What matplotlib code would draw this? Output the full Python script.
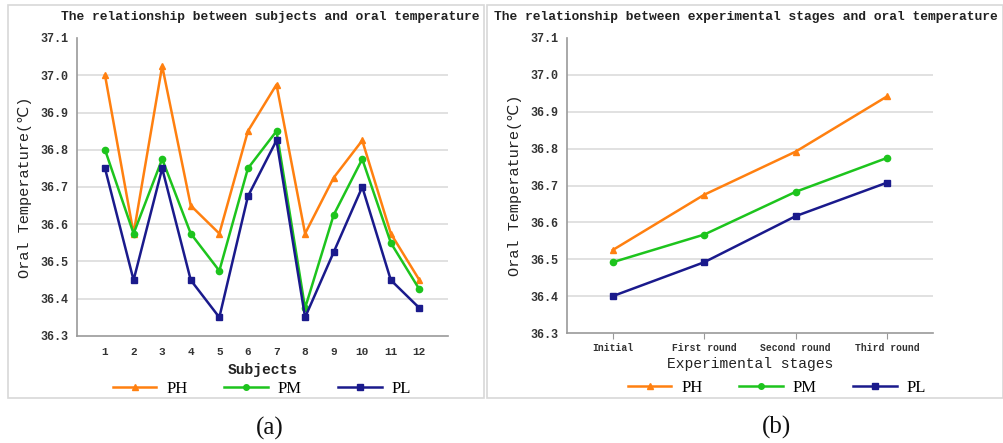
import matplotlib
matplotlib.use("Agg")
import matplotlib.pyplot as plt
from matplotlib.patches import Rectangle
from matplotlib.lines import Line2D

subjects = [str(i) for i in range(1, 13)]
ph_a = [37.0, 36.575, 37.025, 36.65, 36.575, 36.85, 36.975, 36.575, 36.725, 36.825, 36.575, 36.45]
pm_a = [36.8, 36.575, 36.775, 36.575, 36.475, 36.75, 36.85, 36.375, 36.625, 36.775, 36.55, 36.425]
pl_a = [36.75, 36.45, 36.75, 36.45, 36.35, 36.675, 36.825, 36.35, 36.525, 36.7, 36.45, 36.375]

stages = ["Initial", "First round", "Second round", "Third round"]
ph_b = [36.525, 36.675, 36.792, 36.942]
pm_b = [36.492, 36.567, 36.683, 36.775]
pl_b = [36.400, 36.492, 36.617, 36.708]

yticks = [36.3, 36.4, 36.5, 36.6, 36.7, 36.8, 36.9, 37.0, 37.1]
series_names = ["PH", "PM", "PL"]
colors = ["#FF8010", "#1DC41D", "#1A1A8C"]
markers = ["^", "o", "s"]

W, H = 1004, 443
fig = plt.figure(figsize=(W / 100, H / 100), dpi=100)
fig.patch.set_facecolor("white")

MONO = ["Liberation Mono", "DejaVu Sans"]
SERIF = ["Liberation Serif", "DejaVu Serif"]

def fx(x):
    return x / W

def fy(y):
    return 1 - y / H

# panel boxes
for (x0, y0, x1, y1) in [(8, 5, 484, 398), (487, 5, 1003, 398)]:
    fig.patches.append(Rectangle((fx(x0), fy(y1)), fx(x1 - x0), (y1 - y0) / H,
                                 transform=fig.transFigure, fill=False,
                                 edgecolor="#d8d8d8", linewidth=1.2))

def style_axes(ax, xlabels, xpos, xtick_size, ticks_out):
    ax.set_ylim(36.3, 37.1)
    ax.set_yticks(yticks)
    ax.set_yticklabels([f"{v:.1f}" for v in yticks],
                       fontfamily=MONO, fontweight="bold", fontsize=8.5, color="#333333")
    ax.set_xticks(xpos)
    ax.set_xticklabels(xlabels, fontfamily=MONO, fontweight="bold", fontsize=xtick_size, color="#333333")
    for v in yticks[1:-1]:
        ax.axhline(v, color="#dcdcdc", linewidth=1.2, zorder=0)
    for s in ["top", "right"]:
        ax.spines[s].set_visible(False)
    for s in ["left", "bottom"]:
        ax.spines[s].set_color("#999999")
        ax.spines[s].set_linewidth(1.2)
    ax.tick_params(axis="y", length=0, pad=6)
    if ticks_out:
        ax.tick_params(axis="x", length=4, color="#999999", pad=3)
    else:
        ax.tick_params(axis="x", length=0, pad=8)
    ax.set_ylabel("Oral Temperature(℃)", fontfamily=MONO, fontsize=11, color="#222222", labelpad=6)

# left panel
ax1 = fig.add_axes([fx(77), fy(336), fx(448 - 77), (336 - 38) / H])
xa = list(range(1, 13))
for vals, c, m, n in zip([ph_a, pm_a, pl_a], colors, markers, series_names):
    ax1.plot(xa, vals, color=c, marker=m, markersize=4.5, linewidth=1.8, label=n)
ax1.set_xlim(0.02, 13.0)
style_axes(ax1, subjects, xa, 8, False)
ax1.set_xlabel("Subjects", fontfamily=MONO, fontweight="bold", fontsize=10.5, color="#222222", labelpad=4)

# right panel
ax2 = fig.add_axes([fx(567), fy(333), fx(933 - 567), (333 - 38) / H])
xb = list(range(len(stages)))
for vals, c, m, n in zip([ph_b, pm_b, pl_b], colors, markers, series_names):
    ax2.plot(xb, vals, color=c, marker=m, markersize=4.5, linewidth=1.8, label=n)
ax2.set_xlim(-0.5, 3.5)
style_axes(ax2, stages, xb, 7, True)
ax2.set_xlabel("Experimental stages", fontfamily=MONO, fontsize=10.5, color="#222222", labelpad=3)

# titles
fig.text(fx(270), fy(17), "The relationship between subjects and oral temperature",
         ha="center", va="center", fontfamily=MONO, fontsize=9.4, fontweight="bold", color="#222222")
fig.text(fx(746), fy(17), "The relationship between experimental stages and oral temperature",
         ha="center", va="center", fontfamily=MONO, fontsize=9.4, fontweight="bold", color="#222222")

# legends
def legend(cx, cy):
    handles = [Line2D([0], [0], color=c, marker=m, markersize=4, linewidth=1.8)
               for c, m in zip(colors, markers)]
    fig.legend(handles, series_names, loc="center", bbox_to_anchor=(fx(cx), fy(cy)),
               ncol=3, frameon=False, prop={"family": SERIF, "size": 12},
               handlelength=2.6, columnspacing=2.2, handletextpad=0.6,
               borderpad=0.1)

legend(262, 389)
legend(777, 388)

# subfigure labels
fig.text(fx(270), fy(428), "(a)", ha="center", va="center", fontfamily=SERIF, fontsize=18, color="#111111")
fig.text(fx(777), fy(427), "(b)", ha="center", va="center", fontfamily=SERIF, fontsize=18, color="#111111")

fig.savefig("out.png", dpi=100, facecolor="white")
